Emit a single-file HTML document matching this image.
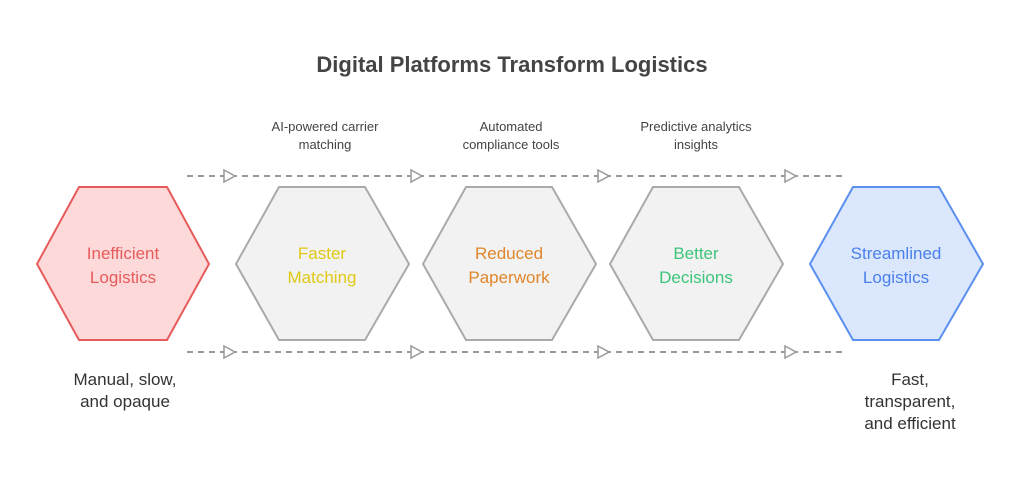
<!DOCTYPE html>
<html><head><meta charset="utf-8"><style>
body{margin:0;width:1024px;height:481px;background:#fff;overflow:hidden}
svg text{font-family:"Liberation Sans",sans-serif}
</style></head><body>
<svg width="1024" height="481" viewBox="0 0 1024 481">
<text x="512" y="72" text-anchor="middle" font-size="22" font-weight="bold" fill="#444">Digital Platforms Transform Logistics</text>
<g stroke="#999" stroke-width="2" stroke-dasharray="6,5" fill="none">
<line x1="187" y1="176" x2="847" y2="176"/>
<line x1="187" y1="352" x2="847" y2="352"/>
</g>
<g fill="#fff" stroke="#999" stroke-width="1.5">
<polygon points="224,170 235,176 224,182"/><polygon points="411,170 422,176 411,182"/><polygon points="598,170 609,176 598,182"/><polygon points="785,170 796,176 785,182"/>
<polygon points="224,346 235,352 224,358"/><polygon points="411,346 422,352 411,358"/><polygon points="598,346 609,352 598,358"/><polygon points="785,346 796,352 785,358"/>
</g>
<polygon points="37,264 79,187 167,187 209,264 167,340 79,340" fill="#fdd9d9" stroke="#e65b5b" stroke-width="2"/>
<polygon points="236,264 279,187 365,187 409,264 365,340 279,340" fill="#f2f2f2" stroke="#aaa" stroke-width="2"/>
<polygon points="423,264 466,187 552,187 596,264 552,340 466,340" fill="#f2f2f2" stroke="#aaa" stroke-width="2"/>
<polygon points="610,264 653,187 739,187 783,264 739,340 653,340" fill="#f2f2f2" stroke="#aaa" stroke-width="2"/>
<polygon points="810,264 853,187 939,187 983,264 939,340 853,340" fill="#dbe7fc" stroke="#5b8ff0" stroke-width="2"/>
<g font-size="17" text-anchor="middle">
<text x="123" y="259" fill="#e65b5b">Inefficient</text><text x="123" y="283" fill="#e65b5b">Logistics</text>
<text x="322" y="259" fill="#e0c814">Faster</text><text x="322" y="283" fill="#e0c814">Matching</text>
<text x="509" y="259" fill="#e0862b">Reduced</text><text x="509" y="283" fill="#e0862b">Paperwork</text>
<text x="696" y="259" fill="#3cc57a">Better</text><text x="696" y="283" fill="#3cc57a">Decisions</text>
<text x="896" y="259" fill="#4a80ea">Streamlined</text><text x="896" y="283" fill="#4a80ea">Logistics</text>
</g>
<g font-size="13" text-anchor="middle" fill="#444">
<text x="325" y="131">AI-powered carrier</text><text x="325" y="149">matching</text>
<text x="511" y="131">Automated</text><text x="511" y="149">compliance tools</text>
<text x="696" y="131">Predictive analytics</text><text x="696" y="149">insights</text>
</g>
<g font-size="17" text-anchor="middle" fill="#333">
<text x="125" y="385">Manual, slow,</text><text x="125" y="407">and opaque</text>
<text x="910" y="385">Fast,</text><text x="910" y="407">transparent,</text><text x="910" y="429">and efficient</text>
</g>
</svg>
</body></html>
